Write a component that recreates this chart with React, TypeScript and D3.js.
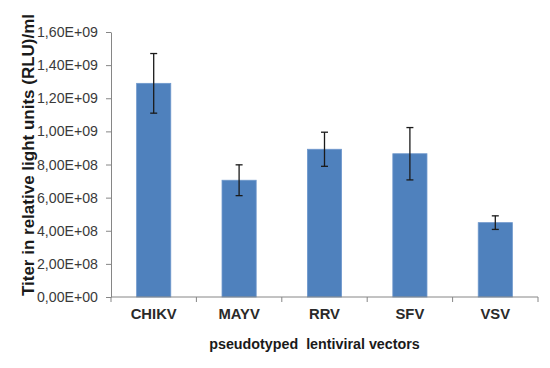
import React, { useEffect, useRef } from 'react'
import * as d3 from 'd3'

const categories = ['CHIKV', 'MAYV', 'RRV', 'SFV', 'VSV']
const titers = [1.29e9, 0.705e9, 0.892e9, 0.865e9, 0.449e9]
const errors = [0.18e9, 0.093e9, 0.103e9, 0.158e9, 0.041e9]
const yTicks = [0, 2e8, 4e8, 6e8, 8e8, 1e9, 1.2e9, 1.4e9, 1.6e9]

const fmt = (v: number) => {
  const [m, e] = v.toExponential(2).split('e')
  const exp = Number(e)
  return m.replace('.', ',') + 'E' + (exp < 0 ? '-' : '+') + String(Math.abs(exp)).padStart(2, '0')
}

export default function App() {
  const ref = useRef<SVGSVGElement>(null)

  useEffect(() => {
    const width = 550
    const height = 368
    const left = 111
    const right = 538
    const top = 32
    const bottom = 297

    const svg = d3.select(ref.current)
    svg.selectAll('*').remove()

    const x = d3.scaleBand<string>()
      .domain(categories)
      .range([left, right])
      .paddingInner(0.6)
      .paddingOuter(0.3)

    const y = d3.scaleLinear().domain([0, 1.6e9]).range([bottom, top])

    const axisColor = '#868686'
    const font = 'Arial, "Liberation Sans", sans-serif'

    // bars
    svg.append('g')
      .selectAll('rect')
      .data(titers)
      .join('rect')
      .attr('x', (_, i) => x(categories[i])!)
      .attr('width', x.bandwidth())
      .attr('y', d => y(d))
      .attr('height', d => bottom - y(d))
      .attr('fill', '#4f81bd')
      .attr('stroke', '#6f98cc')
      .attr('stroke-width', 0.8)

    // error bars
    const eb = svg.append('g')
      .attr('stroke', '#1a1a1a')
      .attr('stroke-width', 1.3)
      .selectAll('g')
      .data(titers)
      .join('g')
      .attr('transform', (_, i) => `translate(${x(categories[i])! + x.bandwidth() / 2},0)`)
    eb.append('line')
      .attr('y1', (d, i) => y(d + errors[i]))
      .attr('y2', (d, i) => y(d - errors[i]))
    eb.append('line')
      .attr('x1', -3.5).attr('x2', 3.5)
      .attr('y1', (d, i) => y(d + errors[i]))
      .attr('y2', (d, i) => y(d + errors[i]))
    eb.append('line')
      .attr('x1', -3.5).attr('x2', 3.5)
      .attr('y1', (d, i) => y(d - errors[i]))
      .attr('y2', (d, i) => y(d - errors[i]))

    // y axis
    const yAxis = svg.append('g')
      .attr('transform', `translate(${left},0)`)
      .call(d3.axisLeft(y).tickValues(yTicks).tickFormat(d => fmt(+d)).tickSize(5).tickSizeOuter(0).tickPadding(8))
    yAxis.select('.domain').attr('stroke', axisColor)
    yAxis.selectAll('.tick line').attr('stroke', axisColor)
    yAxis.selectAll('.tick text')
      .attr('fill', '#3a3a3a')
      .attr('font-size', 14.3)
      .attr('font-family', font)
      .attr('textLength', 61)
      .attr('lengthAdjust', 'spacingAndGlyphs')

    // x axis
    const step = x.step()
    const edges = d3.range(categories.length + 1).map(i => left + i * step)
    const xg = svg.append('g').attr('transform', `translate(0,${bottom})`)
    xg.append('line')
      .attr('x1', left).attr('x2', right)
      .attr('stroke', axisColor)
    xg.selectAll('line.tk')
      .data(edges)
      .join('line')
      .attr('class', 'tk')
      .attr('x1', d => d).attr('x2', d => d)
      .attr('y1', 0).attr('y2', 5)
      .attr('stroke', axisColor)
    xg.selectAll('text')
      .data(categories)
      .join('text')
      .attr('x', d => x(d)! + x.bandwidth() / 2)
      .attr('y', 22)
      .attr('text-anchor', 'middle')
      .attr('font-family', font)
      .attr('font-weight', 'bold')
      .attr('font-size', 14.8)
      .attr('fill', '#2a2a2a')
      .text(d => d)

    // axis titles
    svg.append('text')
      .attr('x', (left + right) / 2 - 10)
      .attr('y', 349)
      .attr('text-anchor', 'middle')
      .attr('font-family', font)
      .attr('font-weight', 'bold')
      .attr('font-size', 14.3)
      .attr('fill', '#1a1a1a')
      .attr('xml:space', 'preserve')
      .text('pseudotyped  lentiviral vectors')

    svg.append('text')
      .attr('transform', `translate(34,155) rotate(-90)`)
      .attr('text-anchor', 'middle')
      .attr('font-family', font)
      .attr('font-weight', 'bold')
      .attr('font-size', 17)
      .attr('fill', '#1a1a1a')
      .text('Titer in relative light units (RLU)/ml')

    svg.attr('width', width).attr('height', height)
  }, [])

  return (
    <svg ref={ref} width={550} height={368}
      style={{ position: 'absolute', left: 0, top: 0, background: '#fff' }} />
  )
}
